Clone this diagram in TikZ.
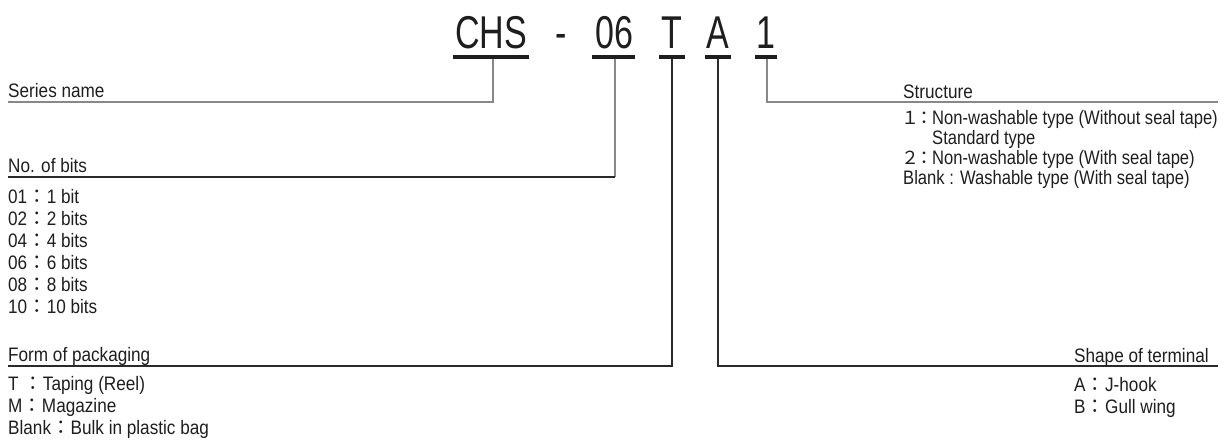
\documentclass[tikz,border=0pt]{standalone}
\usepackage{fontspec}
\setmainfont{Liberation Sans}
\newfontfamily\titlefont[FakeStretch=0.74]{Liberation Sans}
\newfontfamily\lblfont[FakeStretch=0.88]{Liberation Sans}
\newfontfamily\narfont[FakeStretch=0.85]{Liberation Sans}
\newfontfamily\cjkfont{Noto Sans CJK JP}
\definecolor{ink}{HTML}{1E1E1E}
\definecolor{lgray}{HTML}{888888}
\definecolor{dgray}{HTML}{2A2A2A}
\newcommand{\fc}{{\cjkfont ：}}
\newcommand{\snum}[1]{\makebox[14pt][c]{\cjkfont\fontsize{18}{18}\selectfont #1}\makebox[15pt][c]{\cjkfont\fontsize{18}{18}\selectfont ：}}
\begin{document}
\begin{tikzpicture}[x=1pt,y=-1pt,
  txt/.style={inner sep=0pt,anchor=base west,text=ink,font=\lblfont\fontsize{19.5}{22}\selectfont},
  ntxt/.style={txt,font=\narfont\fontsize{19.5}{22}\selectfont},
  ttl/.style={inner sep=0pt,anchor=base,text=ink,font=\titlefont\fontsize{46}{50}\selectfont},
  uline/.style={line width=4pt,draw=ink},
  conG/.style={line width=1.2pt,draw=lgray},
  conD/.style={line width=1.2pt,draw=dgray}]
\useasboundingbox (0,0) rectangle (1231,439);
% title
\node[ttl] (tCHS) at (491,48) {CHS};
\node[ttl] (tdash) at (561,48) {-};
\node[ttl] (t06) at (614,48) {06};
\node[ttl] (tT) at (672,48) {T};
\node[ttl] (tA) at (718,48) {A};
\node[ttl] (t1) at (766,48) {1};
\draw[uline] (453,57) -- (529,57);
\draw[uline] (592,57) -- (635,57);
\draw[uline] (659,57) -- (685,57);
\draw[uline] (705,57) -- (731,57);
\draw[uline] (755,57) -- (777,57);
% connector anchors
\coordinate (uCHS) at (493,59);
\coordinate (u06) at (615,59);
\coordinate (uT) at (672,59);
\coordinate (uA) at (718,59);
\coordinate (u1) at (767,59);
\coordinate (eSeries) at (8,102);
\coordinate (eBits) at (8,177);
\coordinate (eForm) at (8,366);
\coordinate (eShape) at (1218,366);
\coordinate (eStruct) at (1218,102);
\coordinate (k06) at (615,177);
\draw[conG] (uCHS) |- (eSeries);
\draw[conG] (u06) -- (k06);
\draw[conD] (k06) -- (eBits);
\draw[conD] (uT) |- (eForm);
\draw[conD] (uA) |- (eShape);
\draw[conG] (u1) |- (eStruct);
% left labels
\node[txt] (series) at (8,97) {Series name};
\node[txt] (bits) at (8,172) {No. of bits};
\node[txt] (b01) at (8,203) {01\fc1 bit};
\node[txt] (b02) at (8,225) {02\fc2 bits};
\node[txt] (b04) at (8,247) {04\fc4 bits};
\node[txt] (b06) at (8,269) {06\fc6 bits};
\node[txt] (b08) at (8,291) {08\fc8 bits};
\node[txt] (b10) at (8,313) {10\fc10 bits};
\node[txt] (form) at (8,361) {Form of packaging};
\node[txt] (fT) at (8,390) {T \fc Taping (Reel)};
\node[txt] (fM) at (8,412) {M\fc Magazine};
\node[txt] (fB) at (8,434) {Blank\fc Bulk in plastic bag};
% right labels
\node[txt] (struct) at (903,98) {Structure};
\node[ntxt] (s1) at (903,124) {\snum{１}Non-washable type (Without seal tape)};
\node[ntxt] (s1b) at (932,144) {Standard type};
\node[ntxt] (s2) at (903,164) {\snum{２}Non-washable type (With seal tape)};
\node[ntxt] (sB) at (903,184) {Blank : Washable type (With seal tape)};
\node[txt] (shape) at (1074,362) {Shape of terminal};
\node[txt] (pA) at (1074,391) {A\fc J-hook};
\node[txt] (pB) at (1074,413) {B\fc Gull wing};
\end{tikzpicture}
\end{document}
